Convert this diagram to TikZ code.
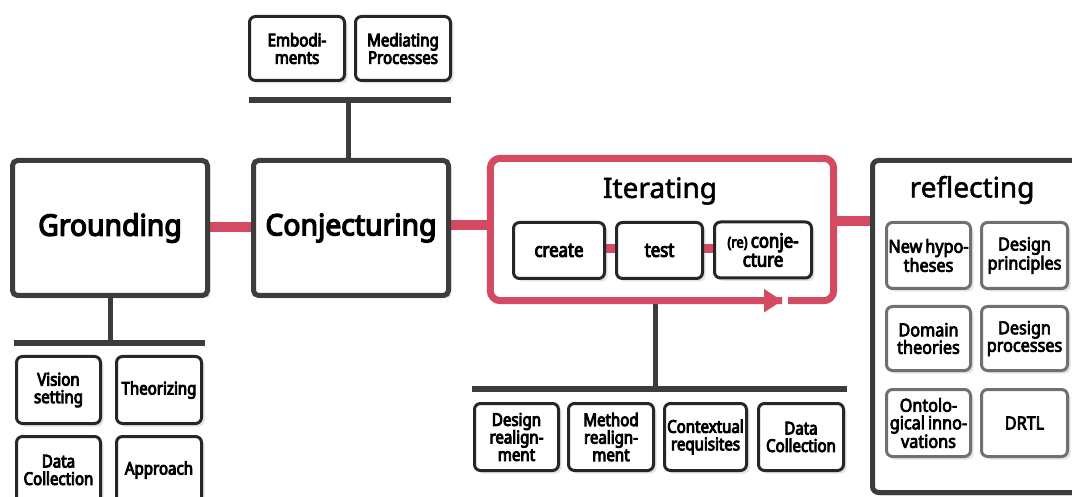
\documentclass[tikz,border=0pt]{standalone}
\usepackage{fontspec}
\setmainfont{Noto Sans}
\newfontfamily\bigfont[FakeStretch=0.96,FakeBold=4.5]{Noto Sans}
\newfontfamily\midfont[FakeBold=1.8]{Noto Sans}
\newfontfamily\lblfont[FakeStretch=0.86,FakeBold=5]{Noto Sans}
\newfontfamily\lblfontb[FakeStretch=0.9,FakeBold=4]{Noto Sans}
\usetikzlibrary{arrows.meta,shadows,calc}
\definecolor{boxgray}{HTML}{3C3C3C}
\definecolor{redc}{HTML}{D44A62}
\definecolor{lightbd}{HTML}{707070}
\pgfdeclarelayer{bg}
\pgfdeclarelayer{paper}
\pgfsetlayers{paper,bg,main}
\begin{document}
\begin{tikzpicture}[x=1pt,y=-1pt,
  shad/.style={drop shadow={opacity=0.18, shadow xshift=3pt, shadow yshift=-3pt, fill=black!60}},
  big/.style={draw=boxgray, line width=5pt, rounded corners=5pt, fill=white,
    minimum width=195pt, minimum height=135pt, inner sep=0pt,
    font=\bigfont\fontsize{29.5}{32}\selectfont, shad},
  small/.style={draw=black!85, line width=3pt, rounded corners=6pt, fill=white,
    minimum width=84pt, minimum height=67pt, inner sep=0pt, align=center,
    font=\lblfont\fontsize{17.5}{17.5}\selectfont, shad},
  refl/.style={small, draw=lightbd, font=\lblfontb\fontsize{18}{17.5}\selectfont},
  itbox/.style={small, minimum height=56pt, font=\lblfont\fontsize{19.5}{19}\selectfont},
  title/.style={font=\midfont\fontsize{28}{30}\selectfont, inner sep=0pt},
  redline/.style={draw=redc, line width=10pt},
  innerred/.style={draw=redc, line width=9pt},
  treeline/.style={draw=boxgray, line width=5pt},
  barline/.style={draw=boxgray, line width=6pt}
]
\clip (0,0) rectangle (1072,497);

% main boxes
\node[big] (G) at (110,228) {Grounding};
\node[big] (C) at (351,228) {Conjecturing};
\node[inner sep=0pt, minimum width=343pt, minimum height=142pt] (I) at (662,229.5) {};
\node[title] (It) at (660,191) {Iterating};
\node[draw=boxgray, line width=5pt, rounded corners=6pt, fill=white, inner sep=0pt,
  minimum width=215pt, minimum height=332pt, shad] (R) at (980,326.5) {};
\node[title] (Rt) at (972,190) {reflecting};

\begin{pgfonlayer}{paper}
\fill[white] (0,0) rectangle (1072,497);
\fill[white] (I.south west) rectangle (I.north east);
\end{pgfonlayer}

% iterating frame with arrow
\draw[draw=redc, line width=7pt, rounded corners=10pt]
  ($(I.south east)+(-45.5,0)$) -- (I.south east) -- (I.north east) -- (I.north west) -- (I.south west)
  -- ($(I.south east)+(-51.5,0)$);
\draw[draw=redc, line width=7pt, -{Triangle[length=18pt,width=22pt]}]
  ($(I.south east)+(-80,0)$) -- ($(I.south east)+(-51.5,0)$);

% iterating inner boxes
\node[itbox, minimum width=91pt] (cr) at (559,250.5) {create};
\node[itbox, minimum width=86pt] (te) at (659.5,250.5) {test};
\node[itbox, minimum width=97pt] (rc) at (763,250) {{\fontsize{15}{19}\selectfont(re)}\,conje-\\cture};

% reflecting inner boxes
\node[refl, minimum height=66pt] (r1) at (928.5,255.5) {New\,hypo-\\theses};
\node[refl, minimum width=86pt, minimum height=66pt] (r2) at (1024.5,255.5) {Design\\principles};
\node[refl, minimum height=64pt] (r3) at (928.5,338.5) {Domain\\theories};
\node[refl, minimum width=86pt, minimum height=64pt] (r4) at (1024.5,338.5) {Design\\processes};
\node[refl] (r5) at (928.5,423) {Ontolo-\\gical\,inno-\\vations};
\node[refl, minimum width=86pt] (r6) at (1024.5,423) {DRTL};

% grounding children
\node[small] (g1) at (58.5,390) {Vision\\setting};
\node[small, minimum width=85pt] (g2) at (159,390) {Theorizing};
\node[small] (g3) at (58.5,470) {Data\\Collection};
\node[small, minimum width=85pt] (g4) at (159,470) {Approach};

% conjecturing children
\node[small, minimum width=95pt, minimum height=64pt] (c1) at (297,48.5) {Embodi-\\ments};
\node[small, minimum width=95pt, minimum height=64pt] (c2) at (403,48.5) {Mediating\\Processes};

% iterating children
\node[small] (i1) at (516.5,437) {Design\\realign-\\ment};
\node[small, minimum width=85pt] (i2) at (611,437) {Method\\realign-\\ment};
\node[small, minimum width=82pt] (i3) at (705.5,437) {Contextual\\requisites};
\node[small, minimum width=85pt] (i4) at (801,437) {Data\\Collection};

% tree and connector coordinates
\coordinate (gb) at (110,343);
\coordinate (gbl) at (14,343);
\coordinate (gbr) at (205,343);
\coordinate (cb) at (348,100);
\coordinate (cbl) at (249,100);
\coordinate (cbr) at (451,100);
\coordinate (ib) at (655,389);
\coordinate (ibl) at (472,389);
\coordinate (ibr) at (847,389);
\coordinate (ir) at ($(I.east)+(0,-8.5)$);
\coordinate (ci) at ($(C.east)+(0,-3)$);
\coordinate (tr) at ($(te.east)+(0,-2)$);
\coordinate (ct) at ($(cr.east)+(0,-2)$);

\begin{pgfonlayer}{bg}
  % red connectors
  \draw[redline] ($(G.east)+(0,-1)$) -- ($(C.west)+(0,-1)$);
  \draw[redline] (ci) -- (ci -| I.west);
  \draw[redline] (ir) -- (ir -| R.west);
  \draw[innerred] (ct) -- (ct -| te.west);
  \draw[innerred] (tr) -- (tr -| rc.west);
  % trees
  \draw[treeline] (G.south) -- (gb);
  \draw[barline] (gbl) -- (gbr);
  \draw[treeline] (C.north -| cb) -- (cb);
  \draw[barline] (cbl) -- (cbr);
  \draw[treeline] (I.south -| ib) -- (ib);
  \draw[barline] (ibl) -- (ibr);
\end{pgfonlayer}
\end{tikzpicture}
\end{document}
